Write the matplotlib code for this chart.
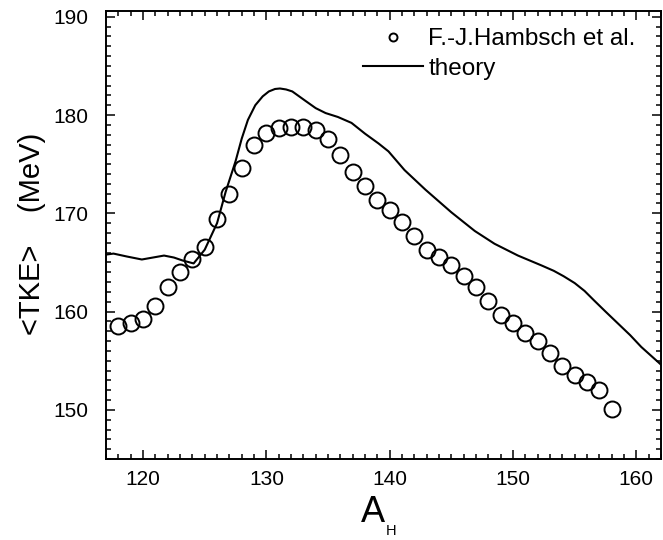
import matplotlib
matplotlib.use("Agg")
import matplotlib.pyplot as plt
from matplotlib.ticker import MultipleLocator

plt.rcParams["font.family"] = ["Liberation Sans", "DejaVu Sans"]

a_exp = list(range(118, 159))
tke_exp = [158.5, 158.8, 159.2, 160.6, 162.5, 164.0, 165.3, 166.6, 169.4, 172.0,
           174.6, 176.9, 178.2, 178.7, 178.8, 178.8, 178.5, 177.6, 175.9, 174.2,
           172.8, 171.4, 170.3, 169.1, 167.7, 166.3, 165.6, 164.7, 163.6, 162.5,
           161.1, 159.7, 158.8, 157.8, 157.0, 155.8, 154.5, 153.5, 152.8, 152.0,
           150.1]

# theory curve
a_th = [117.0, 117.6, 118.7, 119.9, 120.8, 121.7, 122.5, 123.2, 124.1, 125.0,
        126.0, 126.7, 127.5, 128.0, 128.5, 129.1, 129.7, 130.2, 130.7, 131.1,
        131.6, 132.1, 133.1, 134.0, 134.8, 135.8, 136.9, 138.0, 139.1, 139.9,
        141.2, 142.9, 145.0, 146.9, 148.5, 150.4, 152.3, 153.3, 154.1, 155.0,
        155.8, 156.6, 157.5, 158.5, 159.5, 160.4, 161.2, 162.0]
tke_th = [165.8, 165.9, 165.6, 165.3, 165.5, 165.7, 165.5, 165.2, 164.9, 166.3,
          169.0, 172.2, 175.3, 177.6, 179.5, 181.0, 181.9, 182.4, 182.65, 182.7,
          182.6, 182.4, 181.5, 180.7, 180.2, 179.8, 179.2, 178.1, 177.1, 176.3,
          174.4, 172.4, 170.1, 168.2, 166.9, 165.7, 164.7, 164.15, 163.6, 162.9,
          162.1, 161.1, 160.0, 158.8, 157.6, 156.4, 155.5, 154.6]

fig = plt.figure(figsize=(6.63, 5.40), dpi=100)
ax = fig.add_axes([0.160, 0.150, 0.837, 0.829])

ax.plot(a_exp, tke_exp, linestyle="none", marker="o", markersize=11.5,
        markerfacecolor="none", markeredgecolor="black", markeredgewidth=1.4,
        label="F.-J.Hambsch et al.")
ax.plot(a_th, tke_th, color="black", linewidth=1.5, label="theory")

ax.set_xlim(117, 162)
ax.set_ylim(145, 190.55)
ax.xaxis.set_major_locator(MultipleLocator(10))
ax.xaxis.set_minor_locator(MultipleLocator(1))
ax.yaxis.set_major_locator(MultipleLocator(10))
ax.yaxis.set_minor_locator(MultipleLocator(1))
ax.tick_params(which="both", direction="in", top=True, right=True, width=1.1)
ax.tick_params(which="major", length=6.5)
ax.tick_params(which="minor", length=3.3)
ax.tick_params(axis="y", labelsize=15, pad=13)
ax.tick_params(axis="x", labelsize=15, pad=8)
for s in ax.spines.values():
    s.set_linewidth(1.4)

leg = ax.legend(loc="upper right", bbox_to_anchor=(0.985, 1.0), frameon=False,
                fontsize=17.5, markerscale=0.5, handlelength=2.5,
                handletextpad=0.2, labelspacing=0.3, borderaxespad=0.3)

# axis labels
fig.text(32 / 663, 1 - 234 / 540, "<TKE>    (MeV)", rotation=90,
         ha="center", va="center", fontsize=21)
fig.text(373 / 663, 1 - 522 / 540, "A", ha="center", va="baseline", fontsize=26)
fig.text(391 / 663, 1 - 535 / 540, "H", ha="center", va="baseline", fontsize=10.5)

fig.savefig("out.png", dpi=100)
